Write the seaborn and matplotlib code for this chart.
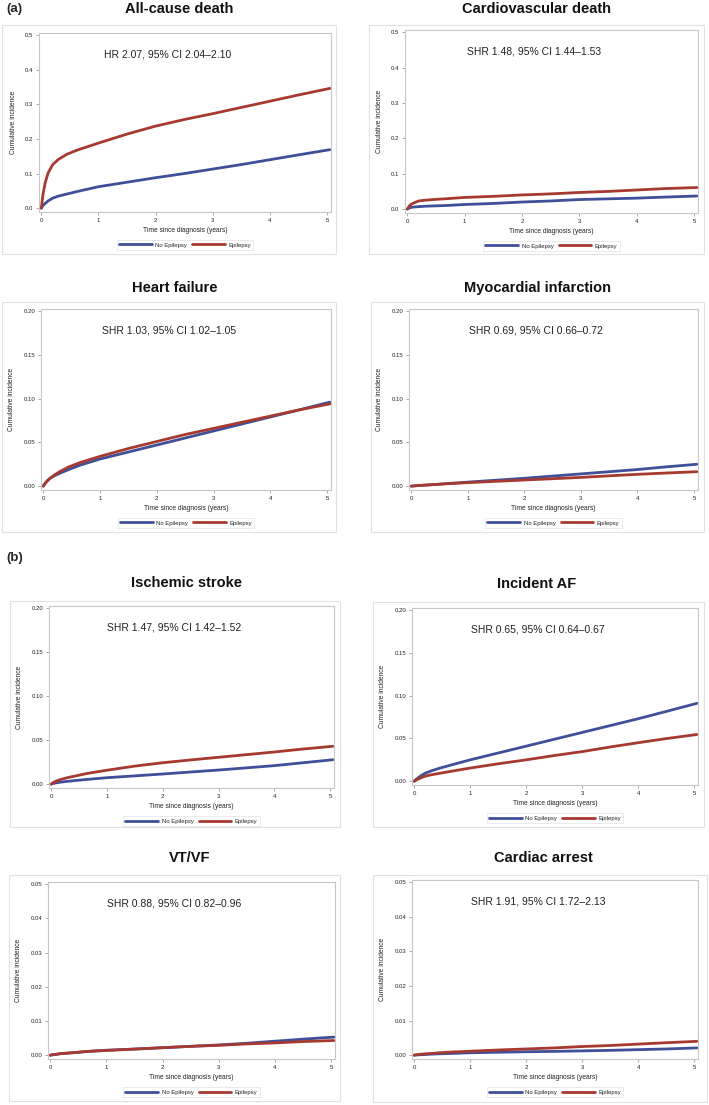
import numpy as np
import pandas as pd
import matplotlib
matplotlib.use("Agg")
import matplotlib.pyplot as plt
from matplotlib.patches import Rectangle
import seaborn as sns

# time grid shared by all curves (years)
years = [0, 0.03, 0.07, 0.12, 0.2, 0.3, 0.45, 0.65, 1, 1.5, 2, 2.5, 3, 3.5, 4, 4.5, 5.05]

# cumulative incidence
acd_no = [0, 0.008, 0.014, 0.021, 0.029, 0.035, 0.041, 0.049, 0.062, 0.075, 0.088, 0.100, 0.113, 0.126, 0.140, 0.154, 0.169]
acd_epi = [0, 0.040, 0.075, 0.102, 0.126, 0.141, 0.156, 0.169, 0.188, 0.214, 0.237, 0.256, 0.273, 0.291, 0.309, 0.327, 0.346]
cvd_no = [0, 0.003, 0.005, 0.006, 0.007, 0.008, 0.009, 0.010, 0.013, 0.016, 0.020, 0.023, 0.027, 0.029, 0.031, 0.034, 0.037]
cvd_epi = [0, 0.008, 0.014, 0.018, 0.023, 0.025, 0.027, 0.029, 0.033, 0.036, 0.040, 0.043, 0.047, 0.050, 0.054, 0.058, 0.061]
hf_no = [0, 0.003, 0.006, 0.009, 0.012, 0.015, 0.019, 0.024, 0.031, 0.039, 0.047, 0.055, 0.063, 0.071, 0.079, 0.087, 0.096]
hf_epi = [0, 0.003, 0.006, 0.009, 0.013, 0.017, 0.022, 0.027, 0.034, 0.043, 0.051, 0.059, 0.066, 0.073, 0.080, 0.087, 0.094]
mi_no = [0, 0.0002, 0.0004, 0.0007, 0.001, 0.0014, 0.002, 0.003, 0.0046, 0.0068, 0.009, 0.0115, 0.014, 0.0165, 0.019, 0.022, 0.025]
mi_epi = [0, 0.0002, 0.0004, 0.0007, 0.001, 0.0014, 0.002, 0.0028, 0.004, 0.0055, 0.007, 0.0085, 0.010, 0.0118, 0.0135, 0.015, 0.0165]
is_no = [0, 0.0006, 0.0012, 0.0018, 0.0025, 0.0032, 0.0042, 0.0054, 0.0073, 0.0094, 0.0115, 0.0138, 0.016, 0.0185, 0.021, 0.0242, 0.0277]
is_epi = [0, 0.0015, 0.003, 0.0042, 0.0058, 0.0075, 0.0095, 0.0122, 0.0158, 0.0205, 0.0243, 0.0275, 0.0305, 0.0335, 0.0365, 0.0398, 0.043]
af_no = [0, 0.002, 0.004, 0.0065, 0.0095, 0.012, 0.0152, 0.0188, 0.025, 0.033, 0.041, 0.049, 0.057, 0.065, 0.073, 0.0815, 0.091]
af_epi = [0, 0.0012, 0.0025, 0.004, 0.006, 0.0075, 0.0092, 0.0115, 0.0154, 0.0204, 0.025, 0.030, 0.0346, 0.040, 0.045, 0.0498, 0.0546]
vt_no = [0, 0.0001, 0.0002, 0.0003, 0.0005, 0.0006, 0.0008, 0.0011, 0.00146, 0.0018, 0.0022, 0.0026, 0.003, 0.0035, 0.0041, 0.0047, 0.0053]
vt_epi = [0, 0.0001, 0.0002, 0.0003, 0.0005, 0.0006, 0.0008, 0.0011, 0.0014, 0.0018, 0.0022, 0.0026, 0.0029, 0.0033, 0.0036, 0.0040, 0.0043]
ca_no = [0, 0.00005, 0.0001, 0.00015, 0.0002, 0.0003, 0.0004, 0.0005, 0.0007, 0.00085, 0.001, 0.0011, 0.00125, 0.0014, 0.0016, 0.0018, 0.0021]
ca_epi = [0, 0.0001, 0.0002, 0.0003, 0.0004, 0.0005, 0.0007, 0.0009, 0.00115, 0.0015, 0.0018, 0.0021, 0.0025, 0.0028, 0.0032, 0.0036, 0.0040]

titles = ["All-cause death", "Cardiovascular death", "Heart failure", "Myocardial infarction",
          "Ischemic stroke", "Incident AF", "VT/VF", "Cardiac arrest"]
hr_text = ["HR 2.07, 95% CI 2.04\u20132.10", "SHR 1.48, 95% CI 1.44\u20131.53",
           "SHR 1.03, 95% CI 1.02\u20131.05", "SHR 0.69, 95% CI 0.66\u20130.72",
           "SHR 1.47, 95% CI 1.42\u20131.52", "SHR 0.65, 95% CI 0.64\u20130.67",
           "SHR 0.88, 95% CI 0.82\u20130.96", "SHR 1.91, 95% CI 1.72\u20132.13"]
series = [(acd_no, acd_epi), (cvd_no, cvd_epi), (hf_no, hf_epi), (mi_no, mi_epi),
          (is_no, is_epi), (af_no, af_epi), (vt_no, vt_epi), (ca_no, ca_epi)]
y_max = [0.5, 0.5, 0.2, 0.2, 0.2, 0.2, 0.05, 0.05]
y_step = [0.1, 0.1, 0.05, 0.05, 0.05, 0.05, 0.01, 0.01]
y_fmt = ["%.1f", "%.1f", "%.2f", "%.2f", "%.2f", "%.2f", "%.2f", "%.2f"]
groups = ["No Epilepsy", "Epilepsy"]

# pixel layout: box (l, t, r, b), axes (l, t, r, b), title (x, y)
layout = [
    ((2, 25, 336, 254), (39, 33, 331, 212), (179, 9)),
    ((369, 25, 704, 254), (405, 30, 698, 213), (537, 9)),
    ((2, 302, 336, 532), (41, 309, 331, 490), (175, 288)),
    ((371, 302, 704, 532), (409, 309, 698, 490), (538, 288)),
    ((10, 601, 340, 827), (49, 606, 334, 788), (187, 583)),
    ((373, 602, 704, 827), (412, 608, 698, 785), (537, 584)),
    ((9, 875, 340, 1101), (48, 882, 335, 1059), (190, 858)),
    ((373, 875, 707, 1102), (412, 880, 698, 1059), (543, 858)),
]

sns.set_style("white")
plt.rcParams["font.family"] = ["Liberation Sans", "DejaVu Sans"]

W, H = 709, 1105
fig = plt.figure(figsize=(W / 100, H / 100), dpi=100)
palette = {"No Epilepsy": "#3f4f98", "Epilepsy": "#a63a30"}


def frac(l, t, r, b):
    return [l / W, 1 - b / H, (r - l) / W, (b - t) / H]


for i, (box, axr, tpos) in enumerate(layout):
    fig.patches.append(Rectangle((box[0] / W, 1 - box[3] / H), (box[2] - box[0]) / W,
                                 (box[3] - box[1]) / H, transform=fig.transFigure,
                                 fill=False, edgecolor="#e2e2e2", linewidth=0.8))
    ax = fig.add_axes(frac(*axr))
    no, epi = series[i]
    df = pd.DataFrame({"time": years * 2, "ci": no + epi,
                       "group": [groups[0]] * len(years) + [groups[1]] * len(years)})
    sns.lineplot(data=df, x="time", y="ci", hue="group", palette=palette,
                 linewidth=2.0, ax=ax, legend=True)
    ym = y_max[i]
    ax.set_xlim(-0.04, 5.07)
    ax.set_ylim(-0.022 * ym, 1.012 * ym)
    ax.set_xticks(range(6))
    ax.set_yticks(np.arange(0, ym + y_step[i] / 2, y_step[i]))
    ax.yaxis.set_major_formatter(matplotlib.ticker.FormatStrFormatter(y_fmt[i]))
    ax.tick_params(labelsize=4.3, length=2, width=0.5, color="#888888", pad=2,
                   labelcolor="#222222", bottom=True, left=True)
    for s in ax.spines.values():
        s.set_color("#c8c8c8")
        s.set_linewidth(0.8)
    ax.set_xlabel("Time since diagnosis (years)", fontsize=4.8, color="#222222", labelpad=3)
    ax.set_ylabel("Cumulative incidence", fontsize=4.8, color="#222222", labelpad=6)
    ax.text(0.44, 0.88, hr_text[i], transform=ax.transAxes, ha="center", va="center",
            fontsize=7.5, color="#222222")
    h = (axr[3] - axr[1])
    leg = ax.legend(loc="center", bbox_to_anchor=(0.5, -33 / h), ncol=2, fontsize=4.3,
                    frameon=True, fancybox=False, handlelength=5.5, handletextpad=0.6,
                    columnspacing=0.8, borderpad=0.35, title=None)
    leg.get_frame().set_edgecolor("#e0e0e0")
    leg.get_frame().set_linewidth(0.6)
    fig.text(tpos[0] / W, 1 - tpos[1] / H, titles[i], ha="center", va="center",
             fontsize=10.5, fontweight="bold", color="#111111")

fig.text(6 / W, 1 - 9 / H, "(a)", ha="left", va="center", fontsize=9.5, fontweight="bold")
fig.text(6 / W, 1 - 558 / H, "(b)", ha="left", va="center", fontsize=9.5, fontweight="bold")

fig.savefig("out.png", dpi=100)
